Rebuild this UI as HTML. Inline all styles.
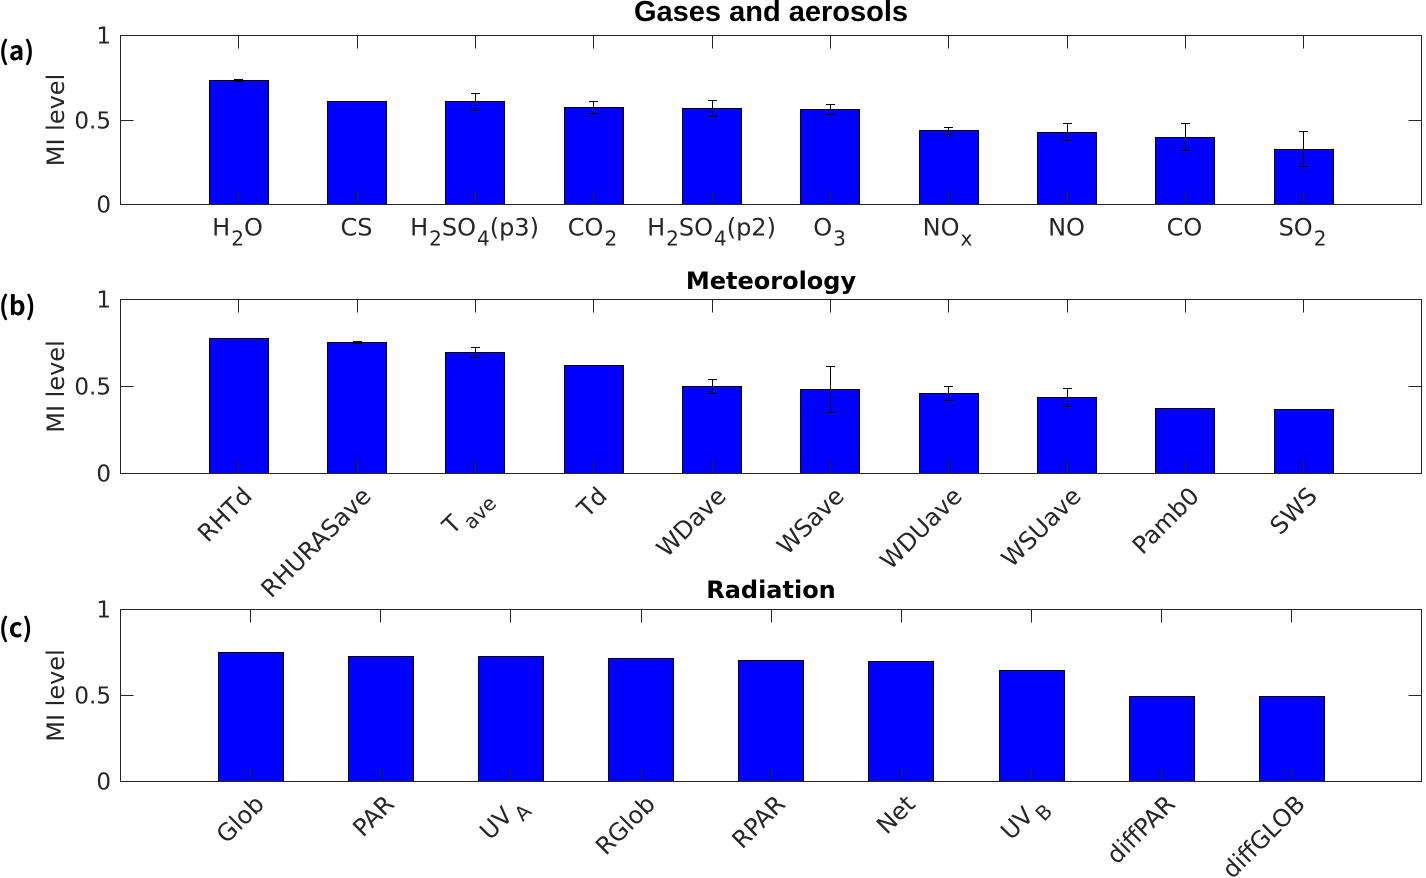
<!DOCTYPE html>
<html>
<head>
<meta charset="utf-8">
<title>MI level chart</title>
<style>
html,body{margin:0;padding:0;background:#fff;}
svg{display:block;}
text{font-family:"DejaVu Sans","Liberation Sans",sans-serif;fill:#262626;white-space:pre;}
</style>
</head>
<body>
<svg id="chart" xmlns="http://www.w3.org/2000/svg" width="1426" height="878" viewBox="0 0 1426 878"></svg>
<script>
const categoriesA = ["H_2O","CS","H_2SO_4(p3)","CO_2","H_2SO_4(p2)","O_3","NO_x","NO","CO","SO_2"];
const valuesA = [0.734,0.609,0.609,0.574,0.57,0.56,0.436,0.428,0.399,0.327];
const errorsA = [0.006,0,0.05,0.038,0.047,0.03,0.02,0.05,0.082,0.105];

const categoriesB = ["RHTd","RHURASave","T _{ave}","Td","WDave","WSave","WDUave","WSUave","Pamb0","SWS"];
const valuesB = [0.776,0.753,0.695,0.621,0.5,0.483,0.46,0.437,0.374,0.368];
const errorsB = [0,0.006,0.029,0,0.04,0.134,0.04,0.05,0,0];

const categoriesC = ["Glob","PAR","UV _A","RGlob","RPAR","Net","UV _B","diffPAR","diffGLOB"];
const valuesC = [0.75,0.727,0.727,0.715,0.703,0.698,0.645,0.494,0.494];
const errorsC = [0,0,0,0,0,0,0,0,0];

const yTickValues = [0,0.5,1];
const yTickLabels = ["0","0.5","1"];

const NS = "http://www.w3.org/2000/svg";
const svg = document.getElementById("chart");

function make(parent, tag, attrs){
  const el = document.createElementNS(NS, tag);
  for (const k in attrs) el.setAttribute(k, attrs[k]);
  parent.appendChild(el);
  return el;
}

function addLabelText(node, label, size){
  const re = /_\{([^}]*)\}|_(.)|([^_]+)/g;
  let m, pendingUp = 0, prev = "";
  const subSize = 20;
  const drop = 10;
  while ((m = re.exec(label))){
    const t = document.createElementNS(NS, "tspan");
    const sub = m[1] !== undefined ? m[1] : m[2];
    if (sub !== undefined){
      t.textContent = sub;
      t.setAttribute("dy", drop);
      t.setAttribute("dx", prev.endsWith(" ") ? -5 : 1);
      t.setAttribute("font-size", subSize);
      pendingUp = -drop;
      prev = sub;
    } else {
      t.textContent = m[3];
      if (pendingUp){ t.setAttribute("dy", pendingUp); t.setAttribute("dx", 0); }
      pendingUp = 0;
      prev = m[3];
    }
    node.appendChild(t);
  }
}

function drawPanel(cfg){
  const g = make(svg, "g", {});
  
  

  const n = cfg.categories.length;
  const left = 120.5, right = 1422;
  const xScale = v => left + (right - left) * v / (n + 1);
  const yScale = v => cfg.bottom - (cfg.bottom - cfg.top) * v;
  const snap = v => Math.round(v - 0.5) + 0.5;
  const barW = (right - left) / (n + 1) * 0.5;

  cfg.categories.forEach((cat, i) => {
    const cx = xScale(i + 1);
    const y = snap(yScale(cfg.values[i]));
    const bar = make(g, "rect", {x: snap(cx - barW / 2), y: y, width: Math.round(barW), height: cfg.bottom - y, fill: "#0000ff", stroke: "#000", "stroke-width": 1, "shape-rendering": "crispEdges"});
    
    
  });

  cfg.errors.forEach((err, i) => {
    if (!err) return;
    const cx = snap(xScale(i + 1));
    const y1 = snap(yScale(cfg.values[i] + err));
    const y2 = snap(yScale(cfg.values[i] - err));
    const d = "M" + cx + " " + y1 + "V" + y2 + "M" + (cx - 4.5) + " " + y1 + "H" + (cx + 4.5) + "M" + (cx - 4.5) + " " + y2 + "H" + (cx + 4.5);
    const eb = make(g, "path", {d: d, stroke: "#000", "stroke-width": 1, fill: "none", "shape-rendering": "crispEdges"});
    
    
  });

  const box = make(g, "rect", {x: left, y: cfg.top, width: 1301, height: cfg.bottom - cfg.top, fill: "none", stroke: "#262626", "stroke-width": 1, "shape-rendering": "crispEdges"});
  
  

  cfg.categories.forEach((cat, i) => {
    const cx = snap(xScale(i + 1));
    const tick = make(g, "path", {d: "M" + cx + " " + cfg.bottom + "v-13M" + cx + " " + cfg.top + "v13", stroke: "#262626", "stroke-width": 1, "shape-rendering": "crispEdges"});
    
    

    let label;
    if (cfg.rotated){
      const ax = cx + 15, ay = cfg.bottom + 24;
      label = make(g, "text", {x: ax, y: ay, "font-size": 24, "text-anchor": "end", transform: "rotate(-45 " + ax + " " + ay + ")"});
    } else {
      label = make(g, "text", {x: cx - 1, y: cfg.bottom + 31, "font-size": 24, "text-anchor": "middle"});
    }
    
    
    addLabelText(label, cat, 24);
  });

  yTickValues.forEach((v, i) => {
    const y = snap(yScale(v));
    const tick = make(g, "path", {d: "M" + left + " " + y + "h13M" + (left + 1301) + " " + y + "h-13", stroke: "#262626", "stroke-width": 1, "shape-rendering": "crispEdges"});
    
    
    const lab = make(g, "text", {x: 111, y: y + 8, "font-size": 23, "text-anchor": "end"});
    
    
    lab.textContent = yTickLabels[i];
  });

  const midY = (cfg.top + cfg.bottom) / 2;
  const yTitle = make(g, "text", {x: 64, y: midY, "font-size": 24, "text-anchor": "middle", transform: "rotate(-90 64 " + midY + ")"});
  
  
  yTitle.textContent = "MI level";

  const title = make(g, "text", {x: 771, y: cfg.titleY, "font-size": cfg.titleSize, "font-weight": "bold", "text-anchor": "middle", style: "fill:#000;font-family:" + cfg.titleFont});
  
  
  title.textContent = cfg.title;

  const tag = make(g, "text", {x: -1, y: cfg.tagY, "font-size": 26, "font-weight": "bold", style: "fill:#000;font-family:'Noto Sans CJK JP',sans-serif"});
  
  
  tag.textContent = cfg.tag;
}

drawPanel({name:"panel-gases-aerosols", categories:categoriesA, values:valuesA, errors:errorsA, top:35.5, bottom:204.5, rotated:false, title:"Gases and aerosols", titleY:21, titleSize:29, titleFont:"'Liberation Sans',sans-serif", tag:"(a)", tagY:60});
drawPanel({name:"panel-meteorology", categories:categoriesB, values:valuesB, errors:errorsB, top:299.5, bottom:473.5, rotated:true, title:"Meteorology", titleY:289, titleSize:24, titleFont:"'DejaVu Sans',sans-serif", tag:"(b)", tagY:315});
drawPanel({name:"panel-radiation", categories:categoriesC, values:valuesC, errors:errorsC, top:609.5, bottom:781.5, rotated:true, title:"Radiation", titleY:598, titleSize:24, titleFont:"'DejaVu Sans',sans-serif", tag:"(c)", tagY:637});
</script>
</body>
</html>
